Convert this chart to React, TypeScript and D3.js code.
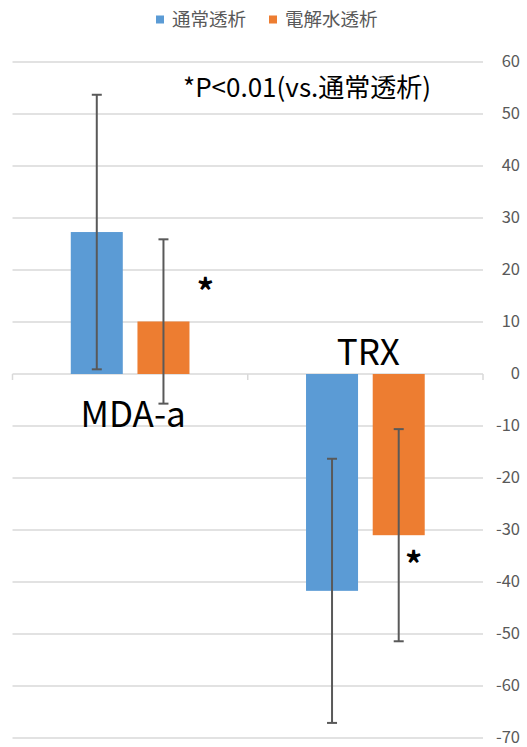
import React from "react";
import { select, scaleBand, scaleLinear } from "d3";

const categories = ["MDA-a", "TRX"];
const seriesNames = ["通常透析", "電解水透析"];
const seriesColors = ["#5b9bd5", "#ed7d31"];
// mean values per series, one per category
const normalMeans = [27.3, -41.7];
const electroMeans = [10.1, -31.0];
// error (±) per series
const normalErrors = [26.4, 25.4];
const electroErrors = [15.8, 20.4];
const yTicks = [60, 50, 40, 30, 20, 10, 0, -10, -20, -30, -40, -50, -60, -70];
const noteText = "*P<0.01(vs.通常透析)";
// where the significance asterisks sit (value on y axis)
const starValues = [17, -35.5];

const W = 527;
const H = 747;
const FONT = "'Noto Sans CJK JP', 'Noto Sans', sans-serif";

export default function App() {
  const svgRef = React.useRef<SVGSVGElement | null>(null);

  React.useLayoutEffect(() => {
    const svg = select(svgRef.current);
    svg.selectAll("*").remove();

    const left = 12.5;
    const right = 483;

    const y = scaleLinear().domain([-70, 60]).range([738, 62]);
    const x0 = scaleBand<string>().domain(categories).range([left, right]).padding(0);
    const x1 = scaleBand<string>()
      .domain(seriesNames)
      .range([0, x0.bandwidth()])
      .paddingInner(0.22)
      .paddingOuter(0.874);

    // gridlines
    svg
      .append("g")
      .selectAll("line")
      .data(yTicks)
      .join("line")
      .attr("x1", left)
      .attr("x2", right)
      .attr("y1", (d) => y(d))
      .attr("y2", (d) => y(d))
      .attr("stroke", "#d9d9d9")
      .attr("stroke-width", 1.5);

    // y tick labels on the right
    svg
      .append("g")
      .selectAll("text")
      .data(yTicks)
      .join("text")
      .attr("x", 520)
      .attr("y", (d) => y(d))
      .attr("dy", "0.33em")
      .attr("text-anchor", "end")
      .attr("font-family", FONT)
      .attr("font-size", 16.5)
      .attr("fill", "#595959")
      .text((d) => d);

    // category ticks on zero line
    const boundaries = [left, left + x0.step(), right];
    svg
      .append("g")
      .selectAll("line")
      .data(boundaries)
      .join("line")
      .attr("x1", (d) => d)
      .attr("x2", (d) => d)
      .attr("y1", y(0))
      .attr("y2", y(0) + 6)
      .attr("stroke", "#d9d9d9")
      .attr("stroke-width", 1.5);

    const series = [
      { name: seriesNames[0], means: normalMeans, errs: normalErrors, color: seriesColors[0] },
      { name: seriesNames[1], means: electroMeans, errs: electroErrors, color: seriesColors[1] },
    ];

    const bars = series.flatMap((s) =>
      categories.map((c, i) => ({
        x: (x0(c) ?? 0) + (x1(s.name) ?? 0),
        w: x1.bandwidth(),
        v: s.means[i],
        e: s.errs[i],
        color: s.color,
      }))
    );

    svg
      .append("g")
      .selectAll("rect")
      .data(bars)
      .join("rect")
      .attr("x", (d) => d.x)
      .attr("width", (d) => d.w)
      .attr("y", (d) => Math.min(y(d.v), y(0)))
      .attr("height", (d) => Math.abs(y(d.v) - y(0)))
      .attr("fill", (d) => d.color);

    // error bars
    const eg = svg.append("g").attr("stroke", "#595959").attr("stroke-width", 2);
    bars.forEach((d) => {
      const cx = d.x + d.w / 2;
      eg.append("line")
        .attr("x1", cx)
        .attr("x2", cx)
        .attr("y1", y(d.v + d.e))
        .attr("y2", y(d.v - d.e));
      [d.v + d.e, d.v - d.e].forEach((v) => {
        eg.append("line")
          .attr("x1", cx - 5)
          .attr("x2", cx + 5)
          .attr("y1", y(v))
          .attr("y2", y(v));
      });
    });

    // category labels (placed as text boxes)
    const labelPos = [
      { dx: 3, v: -10.2 },
      { dx: 3, v: 1.7 },
    ];
    svg
      .append("g")
      .selectAll("text")
      .data(categories)
      .join("text")
      .attr("x", (c, i) => (x0(c) ?? 0) + x0.bandwidth() / 2 + labelPos[i].dx)
      .attr("y", (c, i) => y(labelPos[i].v))
      .attr("text-anchor", "middle")
      .attr("font-family", FONT)
      .attr("font-size", 35)
      .attr("fill", "#000")
      .text((c) => c);

    // asterisks next to orange bars
    const starDx = [42, 15];
    svg
      .append("g")
      .selectAll("text")
      .data(categories)
      .join("text")
      .attr("x", (c, i) => (x0(c) ?? 0) + (x1(seriesNames[1]) ?? 0) + x1.bandwidth() / 2 + starDx[i])
      .attr("y", (c, i) => y(starValues[i]))
      .attr("dy", "0.55em")
      .attr("text-anchor", "middle")
      .attr("font-family", FONT)
      .attr("font-weight", "bold")
      .attr("font-size", 34)
      .attr("fill", "#000")
      .text("*");

    // note
    svg
      .append("text")
      .attr("x", 183)
      .attr("y", 97)
      .attr("font-family", FONT)
      .attr("font-size", 26)
      .attr("fill", "#000")
      .text(noteText);

    // legend
    const legendX = [156, 269];
    const lg = svg.append("g");
    seriesNames.forEach((n, i) => {
      lg.append("rect")
        .attr("x", legendX[i])
        .attr("y", 15.5)
        .attr("width", 8)
        .attr("height", 8)
        .attr("fill", seriesColors[i]);
      lg.append("text")
        .attr("x", legendX[i] + 16)
        .attr("y", 26)
        .attr("font-family", FONT)
        .attr("font-size", 18.5)
        .attr("fill", "#595959")
        .text(n);
    });

    return () => {
      svg.selectAll("*").remove();
    };
  }, []);

  return (
    <svg
      ref={svgRef}
      width={W}
      height={H}
      style={{ position: "absolute", left: 0, top: 0, background: "#fff" }}
    />
  );
}
